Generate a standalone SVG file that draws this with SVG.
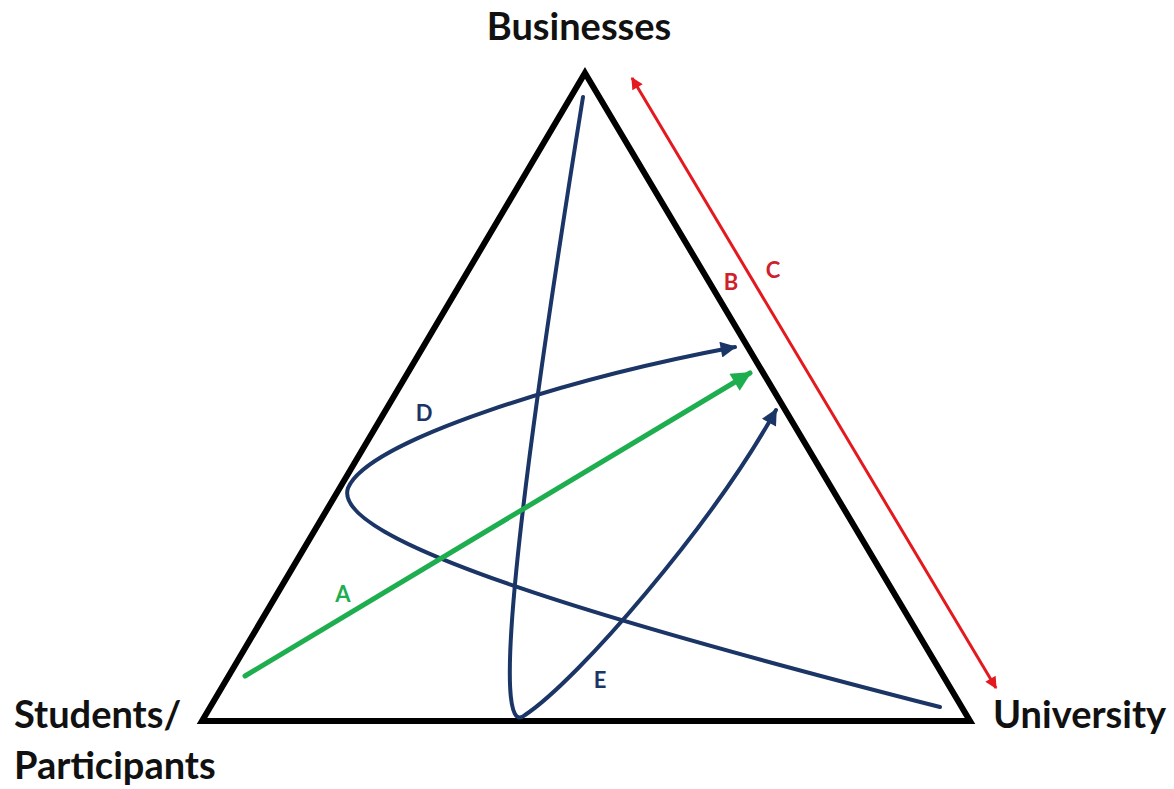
<svg xmlns="http://www.w3.org/2000/svg" width="1174" height="789" viewBox="0 0 1174 789">
<style>
.lbl{font-family:Lato,"Liberation Sans",sans-serif;font-weight:bold;font-size:38px;fill:#111}
.sm{font-family:Lato,"Liberation Sans",sans-serif;font-weight:bold;font-size:22px}
.navy{fill:none;stroke:#1a3566;stroke-width:4;stroke-linecap:round}
</style>
<defs>
<marker id="an" viewBox="0 0 10 10" refX="9" refY="5" markerWidth="20" markerHeight="16" markerUnits="userSpaceOnUse" orient="auto"><path d="M0,0 L10,5 L0,10 z" fill="#1a3566"/></marker>
<marker id="ag" viewBox="0 0 10 10" refX="9" refY="5" markerWidth="24" markerHeight="20" markerUnits="userSpaceOnUse" orient="auto"><path d="M0,0 L10,5 L0,10 z" fill="#1fae4f"/></marker>
<marker id="ar" viewBox="0 0 10 10" refX="9" refY="5" markerWidth="16" markerHeight="12" markerUnits="userSpaceOnUse" orient="auto-start-reverse"><path d="M0,0 L10,5 L0,10 z" fill="#e3191f"/></marker>
</defs>
<rect width="1174" height="789" fill="#fff"/>
<g id="triangle"><path d="M585,73 L970,721 L202,721 Z" fill="none" stroke="#000" stroke-width="6" stroke-linejoin="miter"/></g>
<g id="businesses"><text class="lbl" x="579" y="40" text-anchor="middle">Businesses</text></g>
<g id="university"><text class="lbl" x="993" y="728">University</text></g>
<g id="students"><text class="lbl" x="14" y="728">Students/</text><text class="lbl" x="14" y="779">Participants</text></g>
<g id="connectors">
<path class="navy" d="M583,97 C518,500 490,745 525,715 C578,680 712,525 776,410" marker-end="url(#an)"/>
<path class="navy" d="M940,707 C600,620 330,540 348,488 C368,440 570,378 735,347" marker-end="url(#an)"/>
<line x1="245" y1="676" x2="750" y2="373" stroke="#1fae4f" stroke-width="5" stroke-linecap="round" marker-end="url(#ag)"/>
<line x1="632" y1="78" x2="996" y2="688" stroke="#e3191f" stroke-width="3" marker-start="url(#ar)" marker-end="url(#ar)"/>
</g>
<g id="labels">
<text class="sm" x="343" y="602" fill="#1fae4f" text-anchor="middle">A</text>
<text class="sm" x="731" y="290" fill="#d0202a" text-anchor="middle">B</text>
<text class="sm" x="773" y="278" fill="#d0202a" text-anchor="middle">C</text>
<text class="sm" x="424" y="421" fill="#1a3566" text-anchor="middle">D</text>
<text class="sm" x="600" y="688" fill="#1a3566" text-anchor="middle">E</text>
</g>
</svg>
